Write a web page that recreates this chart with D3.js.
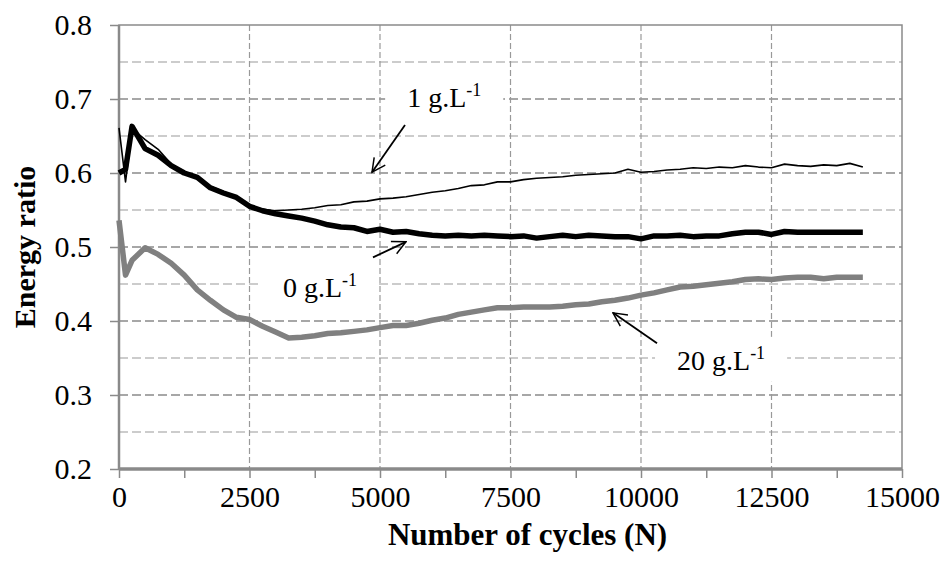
<!DOCTYPE html>
<html>
<head>
<meta charset="utf-8">
<script src="https://cdn.jsdelivr.net/npm/d3@7"></script>
<style>
  body { margin: 0; background: #fff; }
  text { font-family: "Liberation Serif", "Times New Roman", serif; }
</style>
</head>
<body>
<script>
// cycles (N)
const cycles = [0, 125, 250, 500, 750, 1000, 1250, 1500, 1750, 2000, 2250, 2500, 2750, 3000,
  3250, 3500, 3750, 4000, 4250, 4500, 4750, 5000, 5250, 5500, 5750, 6000, 6250, 6500, 6750,
  7000, 7250, 7500, 7750, 8000, 8250, 8500, 8750, 9000, 9250, 9500, 9750, 10000, 10250,
  10500, 10750, 11000, 11250, 11500, 11750, 12000, 12250, 12500, 12750, 13000, 13250, 13500,
  13750, 14000, 14250];

const ratio0g = [0.600, 0.605, 0.663, 0.633, 0.624, 0.610, 0.600, 0.594, 0.580, 0.573, 0.567,
  0.555, 0.549, 0.545, 0.542, 0.539, 0.535, 0.530, 0.527, 0.526, 0.521, 0.524, 0.520, 0.521,
  0.518, 0.516, 0.515, 0.516, 0.515, 0.516, 0.515, 0.514, 0.515, 0.512, 0.514, 0.516, 0.514,
  0.516, 0.515, 0.514, 0.514, 0.511, 0.515, 0.515, 0.516, 0.514, 0.515, 0.515, 0.518, 0.520,
  0.520, 0.517, 0.521, 0.520, 0.520, 0.520, 0.520, 0.520, 0.520];

const ratio1g = [0.661, 0.588, 0.660, 0.645, 0.632, 0.612, 0.601, 0.596, 0.582, 0.575, 0.568,
  0.556, 0.551, 0.549, 0.550, 0.551, 0.553, 0.556, 0.557, 0.561, 0.562, 0.565, 0.566, 0.568,
  0.571, 0.574, 0.576, 0.579, 0.583, 0.584, 0.588, 0.588, 0.591, 0.593, 0.594, 0.595, 0.597,
  0.598, 0.599, 0.600, 0.605, 0.601, 0.602, 0.604, 0.605, 0.607, 0.606, 0.608, 0.607, 0.610,
  0.608, 0.607, 0.612, 0.610, 0.609, 0.611, 0.610, 0.613, 0.608];

const ratio20g = [0.536, 0.462, 0.482, 0.499, 0.490, 0.478, 0.462, 0.442, 0.428, 0.415, 0.405,
  0.402, 0.393, 0.385, 0.377, 0.378, 0.380, 0.383, 0.384, 0.386, 0.388, 0.391, 0.394, 0.394,
  0.397, 0.401, 0.404, 0.409, 0.412, 0.415, 0.418, 0.418, 0.419, 0.419, 0.419, 0.420, 0.422,
  0.423, 0.426, 0.428, 0.431, 0.435, 0.438, 0.442, 0.446, 0.447, 0.449, 0.451, 0.453, 0.456,
  0.457, 0.456, 0.458, 0.459, 0.459, 0.457, 0.459, 0.459, 0.459];

const xTicks = [0, 2500, 5000, 7500, 10000, 12500, 15000];
const yTicks = [0.2, 0.3, 0.4, 0.5, 0.6, 0.7, 0.8];

// label text, label anchor [N, ratio], arrow tail, arrow head
const labels = ["0", "1", "20"];
const labelPos = [[3140, 0.432], [5520, 0.689], [10690, 0.334]];
const arrowFrom = [[4866, 0.486], [5479, 0.665], [10307, 0.370]];
const arrowTo = [[5498, 0.507], [4847, 0.601], [9464, 0.411]];

const W = 947, H = 578;
const margin = {top: 25, right: 45, bottom: 109, left: 119};
const iw = W - margin.left - margin.right;
const ih = H - margin.top - margin.bottom;

const x = d3.scaleLinear().domain([0, 15000]).range([0, iw]);
const y = d3.scaleLinear().domain([0.2, 0.8]).range([ih, 0]);

const svg = d3.select("body").append("svg")
  .attr("width", W)
  .attr("height", H);

const defs = svg.append("defs");
defs.append("marker")
  .attr("id", "head")
  .attr("viewBox", "0 0 12 12")
  .attr("refX", 11).attr("refY", 6)
  .attr("markerWidth", 9).attr("markerHeight", 9)
  .attr("markerUnits", "strokeWidth")
  .attr("orient", "auto")
  .append("path")
  .attr("d", "M1,1 L11,6 L1,11")
  .attr("fill", "none")
  .attr("stroke", "#000")
  .attr("stroke-width", 1.1);

const g = svg.append("g").attr("transform", `translate(${margin.left},${margin.top})`);

// horizontal gridlines, major every 0.1, minor every 0.05
const hGrid = d3.range(0.25, 0.8, 0.05).map(v => +v.toFixed(2));
g.append("g").selectAll("line")
  .data(hGrid)
  .join("line")
  .attr("x1", 0).attr("x2", iw)
  .attr("y1", d => y(d)).attr("y2", d => y(d))
  .attr("stroke", d => Math.round(d * 100) % 10 === 0 ? "#8a8a8a" : "#bcbcbc")
  .attr("stroke-width", 1.6)
  .attr("stroke-dasharray", "9,4");

// vertical gridlines
g.append("g").selectAll("line")
  .data(xTicks.slice(1, -1))
  .join("line")
  .attr("x1", d => x(d)).attr("x2", d => x(d))
  .attr("y1", 0).attr("y2", ih)
  .attr("stroke", "#999")
  .attr("stroke-width", 1.2)
  .attr("stroke-dasharray", "6,3");

// plot area border
g.append("rect")
  .attr("width", iw).attr("height", ih)
  .attr("fill", "none")
  .attr("stroke", "#8a8a8a")
  .attr("stroke-width", 1.5);

// axes
const yAxis = d3.axisLeft(y).tickValues(yTicks).tickFormat(d3.format(".1f")).tickSize(9).tickPadding(18);
const xAxis = d3.axisBottom(x).tickValues(d3.range(0, 15001, 1250)).tickSize(9).tickPadding(8)
  .tickFormat(d => xTicks.includes(d) ? d : "");

const ya = g.append("g").call(yAxis);
const xa = g.append("g").attr("transform", `translate(0,${ih})`).call(xAxis);
[ya, xa].forEach(a => {
  a.select(".domain").attr("stroke", "#8a8a8a");
  a.selectAll(".tick line").attr("stroke", "#8a8a8a").attr("stroke-width", 1.5);
  a.selectAll(".tick text").attr("font-size", 30).attr("fill", "#000")
    .style("font-family", "'Liberation Serif', serif");
});
ya.select(".domain").attr("stroke-width", 2.5).attr("d", `M0,0V${ih}`);
xa.select(".domain").attr("stroke-width", 3.5).attr("d", `M0,0H${iw}`);

const annot = g.append("g");

// series
const line = d3.line().x((d, i) => x(cycles[i])).y(d => y(d));
g.append("path").datum(ratio20g)
  .attr("d", line).attr("fill", "none")
  .attr("stroke", "#808080").attr("stroke-width", 5.5).attr("stroke-linejoin", "round");
g.append("path").datum(ratio0g)
  .attr("d", line).attr("fill", "none")
  .attr("stroke", "#000").attr("stroke-width", 5.5).attr("stroke-linejoin", "round");
g.append("path").datum(ratio1g)
  .attr("d", line).attr("fill", "none")
  .attr("stroke", "#000").attr("stroke-width", 1.6).attr("stroke-linejoin", "round");

// annotations with white boxes
labels.forEach((lab, i) => {
  const t = annot.append("text")
    .attr("x", x(labelPos[i][0]))
    .attr("y", y(labelPos[i][1]))
    .attr("font-size", 28)
    .attr("fill", "#000");
  t.append("tspan").text(lab + " g.L");
  t.append("tspan").attr("dy", -11).attr("font-size", 18).text("-1");
  const bb = t.node().getBBox();
  annot.insert("rect", "text")
    .attr("x", bb.x - 22).attr("y", bb.y - 6)
    .attr("width", bb.width + 44).attr("height", bb.height + 12)
    .attr("fill", "#fff");
  annot.append("line")
    .attr("x1", x(arrowFrom[i][0])).attr("y1", y(arrowFrom[i][1]))
    .attr("x2", x(arrowTo[i][0])).attr("y2", y(arrowTo[i][1]))
    .attr("stroke", "#000").attr("stroke-width", 1.8)
    .attr("marker-end", "url(#head)");
});
annot.raise();

// axis titles
svg.append("text")
  .attr("transform", `translate(35,${margin.top + ih / 2}) rotate(-90)`)
  .attr("text-anchor", "middle")
  .attr("font-size", 30).attr("font-weight", "bold")
  .text("Energy ratio");

svg.append("text")
  .attr("x", margin.left + iw / 2 + 17)
  .attr("y", 545)
  .attr("text-anchor", "middle")
  .attr("font-size", 31).attr("font-weight", "bold")
  .text("Number of cycles (N)");
</script>
</body>
</html>
